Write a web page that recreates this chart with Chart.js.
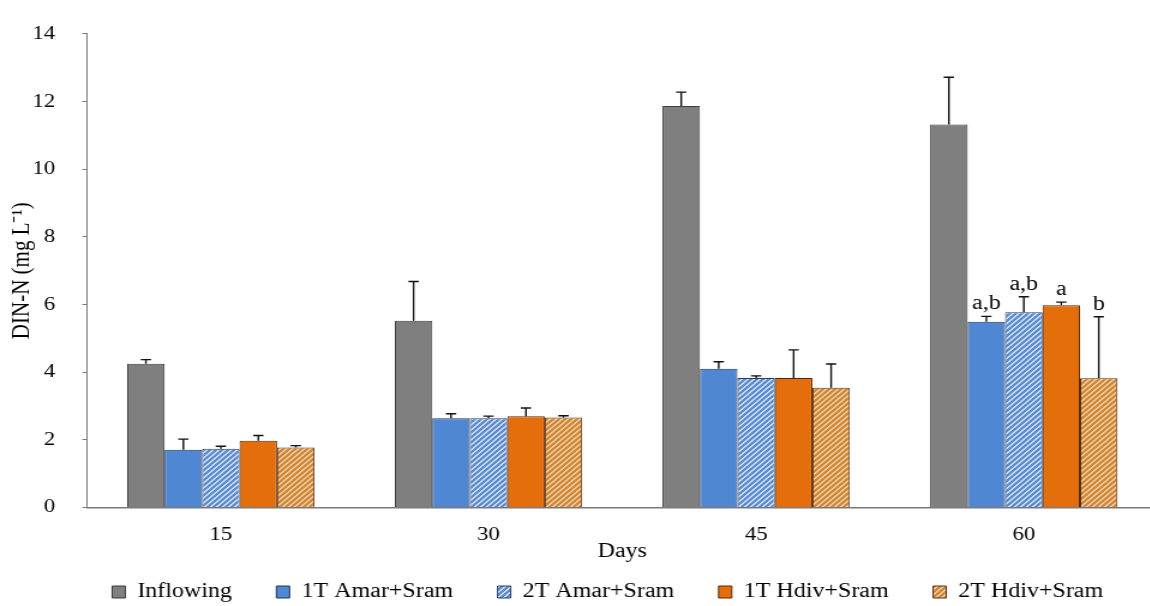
<!DOCTYPE html>
<html>
<head>
<meta charset="utf-8">
<title>DIN-N by day</title>
<script src="https://cdn.jsdelivr.net/npm/chart.js@4.4.1/dist/chart.umd.min.js"></script>
<style>
  html, body { margin: 0; padding: 0; background: #fff; overflow: hidden; }
  #frame { width: 1150px; height: 606px; overflow: hidden; position: relative; background: #fff; }
  /* the figure is laid out narrow and widened horizontally, like the exported image */
  #stretch { width: 975px; height: 612px; transform: scaleX(1.2); transform-origin: 0 0; }
  canvas { display: block; }
</style>
</head>
<body>
<div id="frame"><div id="stretch"><canvas id="chart" width="975" height="612"></canvas></div></div>
<script>
// Sampling days (x categories)
const days = ['15', '30', '45', '60'];

// Y axis ticks
const yTickValues = [0, 2, 4, 6, 8, 10, 12, 14];

// Series names
const seriesNames = ['Inflowing', '1T Amar+Sram', '2T Amar+Sram', '1T Hdiv+Sram', '2T Hdiv+Sram'];

// Mean DIN-N (mg L-1) and upper error (SD) per day
const inflowing    = [4.25, 5.52, 11.87, 11.32];
const inflowingErr = [0.12, 1.16, 0.41, 1.40];

const amar1T    = [1.71, 2.64, 4.10, 5.49];
const amar1TErr = [0.31, 0.13, 0.21, 0.16];

const amar2T    = [1.74, 2.64, 3.83, 5.77];
const amar2TErr = [0.07, 0.06, 0.06, 0.46];

const hdiv1T    = [1.97, 2.70, 3.83, 5.98];
const hdiv1TErr = [0.16, 0.24, 0.83, 0.09];

const hdiv2T    = [1.77, 2.66, 3.54, 3.82];
const hdiv2TErr = [0.06, 0.05, 0.70, 1.82];

// Significance letters on day 60
const inflowingSig = ['', '', '', ''];
const amar1TSig    = ['', '', '', 'a,b'];
const amar2TSig    = ['', '', '', 'a,b'];
const hdiv1TSig    = ['', '', '', 'a'];
const hdiv2TSig    = ['', '', '', 'b'];

const SERIF = '"Liberation Serif", "Times New Roman", Times, serif';
const INK = '#000';

const canvas = document.getElementById('chart');
const ctx = canvas.getContext('2d');

// Diagonal "/" hatch fill
function hatch(base, line, width) {
  const T = 5;
  const tile = document.createElement('canvas');
  tile.width = T; tile.height = T;
  const g = tile.getContext('2d');
  g.fillStyle = base;
  g.fillRect(0, 0, T, T);
  g.strokeStyle = line;
  g.lineWidth = width;
  g.beginPath();
  g.moveTo(0, T); g.lineTo(T, 0);
  g.moveTo(-T / 2, T / 2); g.lineTo(T / 2, -T / 2);
  g.moveTo(T / 2, T * 1.5); g.lineTo(T * 1.5, T / 2);
  g.stroke();
  return ctx.createPattern(tile, 'repeat');
}

// Upward error bars and significance letters
const errorBars = {
  id: 'errorBars',
  afterDatasetsDraw(chart) {
    const c = chart.ctx;
    const y = chart.scales.y;
    c.save();
    c.strokeStyle = '#111';
    c.lineWidth = 1.4;
    c.fillStyle = INK;
    c.font = '20px ' + SERIF;
    c.textAlign = 'center';
    c.textBaseline = 'alphabetic';
    chart.data.datasets.forEach((ds, i) => {
      const meta = chart.getDatasetMeta(i);
      meta.data.forEach((bar, j) => {
        const top = y.getPixelForValue(ds.data[j] + ds.errors[j]);
        c.beginPath();
        c.moveTo(bar.x, bar.y);
        c.lineTo(bar.x, top);
        c.moveTo(bar.x - 4.3, top);
        c.lineTo(bar.x + 4.3, top);
        c.stroke();
        const letter = ds.letters[j];
        if (letter) c.fillText(letter, bar.x, top - 7);
      });
    });
    c.restore();
  }
};

// Moves the legend row to sit under the plot
const legendOffset = {
  id: 'legendOffset',
  afterLayout(chart) {
    const lg = chart.legend;
    if (lg) { lg.left += 24; lg.right += 24; }
  }
};

const datasets = [
  { label: seriesNames[0], data: inflowing, errors: inflowingErr, letters: inflowingSig,
    backgroundColor: '#7f7f7f', borderColor: '#3b3b3b' },
  { label: seriesNames[1], data: amar1T, errors: amar1TErr, letters: amar1TSig,
    backgroundColor: '#4f87d2', borderColor: '#1f3454' },
  { label: seriesNames[2], data: amar2T, errors: amar2TErr, letters: amar2TSig,
    backgroundColor: hatch('#f4f8fd', '#5a8ad0', 2.4), borderColor: '#2a3f60' },
  { label: seriesNames[3], data: hdiv1T, errors: hdiv1TErr, letters: hdiv1TSig,
    backgroundColor: '#e56e0c', borderColor: '#552806' },
  { label: seriesNames[4], data: hdiv2T, errors: hdiv2TErr, letters: hdiv2TSig,
    backgroundColor: hatch('#fce2bc', '#cf8639', 2.4), borderColor: '#5a3210' }
].map(d => Object.assign(d, { borderWidth: 1, categoryPercentage: 0.7, barPercentage: 1.0 }));

new Chart(ctx, {
  type: 'bar',
  data: { labels: days, datasets },
  options: {
    responsive: false,
    animation: false,
    events: [],
    layout: { padding: { top: 17.5, right: 10.3, bottom: 0, left: 0 } },
    scales: {
      x: {
        offset: true,
        grid: { display: false, drawTicks: false },
        border: { display: true, color: '#7a7a7a', width: 1.5 },
        ticks: { color: INK, padding: 16.5, font: { family: SERIF, size: 19 } },
        title: { display: true, text: 'Days', color: INK,
                 font: { family: SERIF, size: 20 }, padding: { top: 0, bottom: -19 } },
        afterFit(scale) { scale.height = 37.5; }
      },
      y: {
        min: yTickValues[0],
        max: yTickValues[yTickValues.length - 1],
        afterBuildTicks(scale) { scale.ticks = yTickValues.map(v => ({ value: v })); },
        grid: { display: true, drawOnChartArea: false, drawTicks: true, tickLength: 4, color: '#7a7a7a' },
        border: { display: true, color: '#7a7a7a', width: 1 },
        ticks: { color: INK, padding: 22.5, font: { family: SERIF, size: 19 } },
        title: { display: true, text: 'DIN-N (mg L\u207B\u00B9)', color: INK,
                 font: { family: SERIF, size: 21 }, padding: { top: 6, bottom: 0 } },
        afterFit(scale) { scale.width = 72.5; }
      }
    },
    plugins: {
      tooltip: { enabled: false },
      legend: {
        position: 'bottom',
        labels: {
          boxWidth: 11, boxHeight: 12, padding: 37, color: INK,
          font: { family: SERIF, size: 20 }
        }
      }
    }
  },
  plugins: [errorBars, legendOffset]
});
</script>
</body>
</html>
